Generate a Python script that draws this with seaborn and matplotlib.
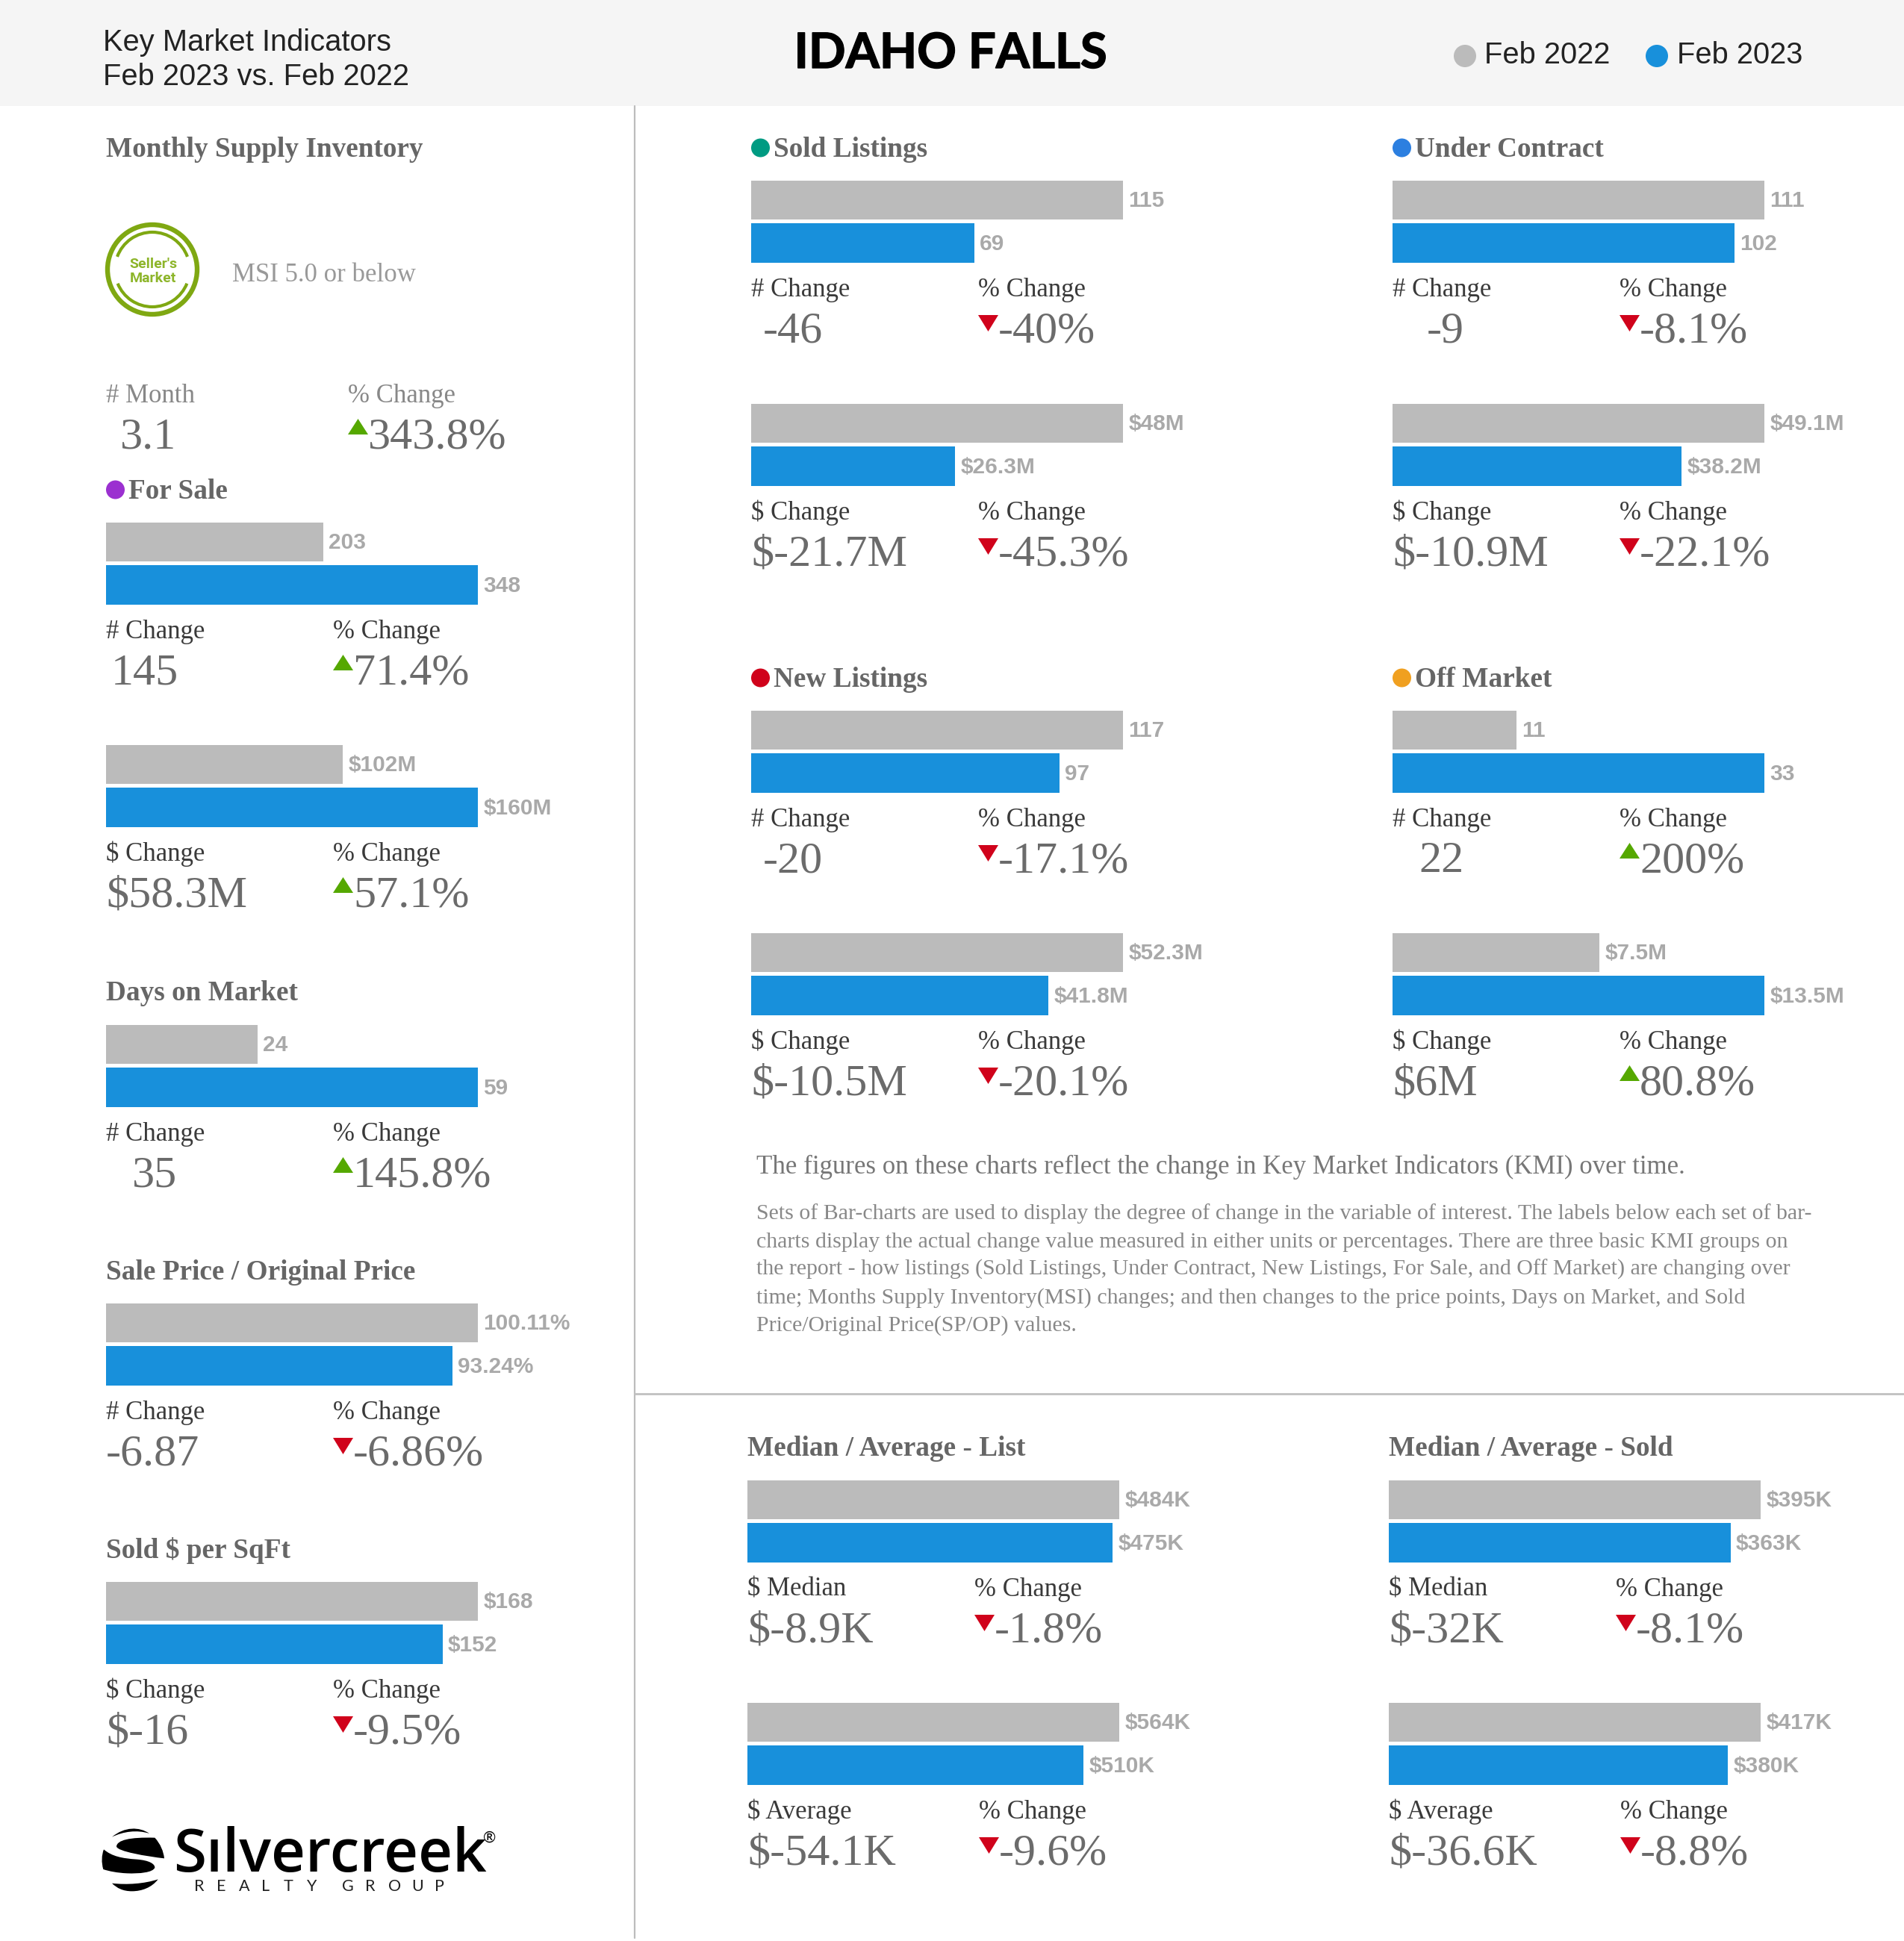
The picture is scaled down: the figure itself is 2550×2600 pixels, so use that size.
import numpy as np
import pandas as pd
import matplotlib
matplotlib.use("Agg")
import matplotlib.pyplot as plt
import matplotlib.patheffects as pe
import seaborn as sns
from matplotlib.patches import Rectangle, Circle, Arc, Polygon, PathPatch
from matplotlib.path import Path

periods = ["Feb 2022", "Feb 2023"]

# values, [Feb 2022, Feb 2023]
for_sale_count = [203, 348]
for_sale_volume = [102, 160]
days_on_market = [24, 59]
sale_vs_original = [100.11, 93.24]
sold_per_sqft = [168, 152]
sold_count = [115, 69]
sold_volume = [48, 26.3]
contract_count = [111, 102]
contract_volume = [49.1, 38.2]
new_count = [117, 97]
new_volume = [52.3, 41.8]
off_count = [11, 33]
off_volume = [7.5, 13.5]
list_median = [484, 475]
list_average = [564, 510]
closed_median = [395, 363]
closed_average = [417, 380]

# change figures under the bars
for_sale_count_change = ["145", "71.4%"]
for_sale_volume_change = ["$58.3M", "57.1%"]
days_change = ["35", "145.8%"]
sale_vs_original_change = ["-6.87", "-6.86%"]
sqft_change = ["$-16", "-9.5%"]
sold_count_change = ["-46", "-40%"]
sold_volume_change = ["$-21.7M", "-45.3%"]
contract_count_change = ["-9", "-8.1%"]
contract_volume_change = ["$-10.9M", "-22.1%"]
new_count_change = ["-20", "-17.1%"]
new_volume_change = ["$-10.5M", "-20.1%"]
off_count_change = ["22", "200%"]
off_volume_change = ["$6M", "80.8%"]
list_median_change = ["$-8.9K", "-1.8%"]
list_average_change = ["$-54.1K", "-9.6%"]
closed_median_change = ["$-32K", "-8.1%"]
closed_average_change = ["$-36.6K", "-8.8%"]
msi_change = ["3.1", "343.8%"]

lead_text = "The figures on these charts reflect the change in Key Market Indicators (KMI) over time."
body_lines = [
    "Sets of Bar-charts are used to display the degree of change in the variable of interest. The labels below each set of bar-",
    "charts display the actual change value measured in either units or percentages. There are three basic KMI groups on",
    "the report - how listings (Sold Listings, Under Contract, New Listings, For Sale, and Off Market) are changing over",
    "time; Months Supply Inventory(MSI) changes; and then changes to the price points, Days on Market, and Sold",
    "Price/Original Price(SP/OP) values.",
]

W, H = 2550, 2600
GRAY = "#BBBBBB"
BLUE = "#1890DB"
SERIF = "Liberation Serif"
SANS = "Liberation Sans"

sns.set_theme(style="white")
fig = plt.figure(figsize=(W / 100, H / 100), dpi=100, facecolor="white")

# page layer in pixel coordinates for text and decorations
page = fig.add_axes([0, 0, 1, 1])
page.set_xlim(0, W)
page.set_ylim(H, 0)
page.axis("off")


def put(x, y, s, size, color, family=SERIF, weight="normal", ha="left"):
    return page.text(x, y, s, fontsize=size, color=color, family=family, weight=weight, ha=ha, va="baseline")


def title(x, y, s, dot=None):
    if dot:
        page.add_patch(Circle((x + 12.5, y - 11), 12.5, color=dot, lw=0))
        x += 30
    put(x, y + 1, s, 26.8, "#666666", weight="bold")


def changes(x, y, col2, label, vals, offset=0, label_color="#3A3A3A"):
    # y is the baseline of the small label
    put(x, y, label, 25, label_color)
    put(x + col2, y, "% Change", 25, label_color)
    vy = y + 61
    put(x + offset, vy + 0.5, vals[0], 43.3, "#6B6B6B")
    px = x + col2
    if vals[1].startswith("-"):
        page.add_patch(Polygon([(px, vy - 36), (px + 27, vy - 36), (px + 13.5, vy - 14)], color="#D0021B", lw=0))
    else:
        page.add_patch(Polygon([(px, vy - 18), (px + 27, vy - 18), (px + 13.5, vy - 39)], color="#55A800", lw=0))
    put(px + 27, vy + 0.5, vals[1], 43.3, "#6B6B6B")


def bars(x, top, values, fmt):
    ax = fig.add_axes([x / W, 1 - (top + 112.25) / H, 498 / W, 115 / H])
    df = pd.DataFrame({"period": periods, "value": values})
    sns.barplot(data=df, x="value", y="period", hue="period", order=periods, hue_order=periods,
                palette=[GRAY, BLUE], width=0.913, saturation=1, dodge=False, legend=False,
                linewidth=0, ax=ax)
    ax.set_xlim(0, max(values))
    for cont, v in zip(ax.containers, values):
        for ann in ax.bar_label(cont, labels=[fmt.format(v)], padding=5.4, fontsize=21.5, color="#A9A9A9",
                                family=SANS, weight="bold"):
            ann.xyann = (ann.xyann[0], ann.xyann[1] - 1)
    ax.axis("off")


def panel(x, top, values, fmt, label, vals, offset=0, col2=304):
    bars(x, top, values, fmt)
    changes(x, top + 155, col2, label, vals, offset)


# header band and rules
page.add_patch(Rectangle((0, 0), W, 142, color="#F5F5F5", lw=0))
page.plot([850, 850], [142, 2596], color="#BDBDBD", lw=1.6)
page.plot([850, W], [1867, 1867], color="#C0C0C0", lw=2)

put(138, 68.5, "Key Market Indicators", 28.7, "#222222", family=SANS)
put(138, 114, "Feb 2023 vs. Feb 2022", 28.7, "#222222", family=SANS)
heading = put(1273, 91, "IDAHO FALLS", 47, "black", family="Lato", weight="bold", ha="center")
heading.set_path_effects([pe.withStroke(linewidth=1, foreground="black")])
page.add_patch(Circle((1962, 75), 15, color=GRAY, lw=0))
put(1987.5, 85, periods[0], 28.7, "#222222", family=SANS)
page.add_patch(Circle((2219, 75), 15, color=BLUE, lw=0))
put(2245.5, 85, periods[1], 28.7, "#222222", family=SANS)

# left column
title(142, 209, "Monthly Supply Inventory")
GREEN = "#7FA812"
page.add_patch(Circle((204, 361), 60, fill=False, ec=GREEN, lw=4.6))
page.add_patch(Arc((204, 361), 100, 100, theta1=200, theta2=340, color=GREEN, lw=3))
page.add_patch(Arc((204, 361), 100, 100, theta1=22, theta2=158, color=GREEN, lw=3))
put(205, 359, "Seller's", 14, "#8DB52A", family="Roboto", weight="bold", ha="center")
put(205, 378, "Market", 14, "#8DB52A", family="Roboto", weight="bold", ha="center")
put(311, 377, "MSI 5.0 or below", 25, "#999999")
changes(142, 539, 324, "# Month", msi_change, offset=19, label_color="#888888")

title(142, 667, "For Sale", dot="#9B30D0")
panel(142, 700, for_sale_count, "{:g}", "# Change", for_sale_count_change, offset=7)
panel(142, 998, for_sale_volume, "${:g}M", "$ Change", for_sale_volume_change)
title(142, 1339, "Days on Market")
panel(142, 1373, days_on_market, "{:g}", "# Change", days_change, offset=35)
title(142, 1713, "Sale Price / Original Price")
panel(142, 1746, sale_vs_original, "{:g}%", "# Change", sale_vs_original_change)
title(142, 2086, "Sold $ per SqFt")
panel(142, 2119, sold_per_sqft, "${:g}", "$ Change", sqft_change)

# listing panels
title(1006, 209, "Sold Listings", dot="#009B82")
panel(1006, 242, sold_count, "{:g}", "# Change", sold_count_change, offset=16)
panel(1006, 541, sold_volume, "${:g}M", "$ Change", sold_volume_change)
title(1865, 209, "Under Contract", dot="#2C7FE0")
panel(1865, 242, contract_count, "{:g}", "# Change", contract_count_change, offset=46)
panel(1865, 541, contract_volume, "${:g}M", "$ Change", contract_volume_change)
title(1006, 919, "New Listings", dot="#D0021B")
panel(1006, 952, new_count, "{:g}", "# Change", new_count_change, offset=16)
panel(1006, 1250, new_volume, "${:g}M", "$ Change", new_volume_change)
title(1865, 919, "Off Market", dot="#F0A020")
panel(1865, 952, off_count, "{:g}", "# Change", off_count_change, offset=35)
panel(1865, 1250, off_volume, "${:g}M", "$ Change", off_volume_change)

# note
put(1013, 1572, lead_text, 25.1, "#777777")
for line, y in zip(body_lines, [1633, 1671, 1708, 1746, 1783]):
    put(1013, y, line, 21.5, "#888888")

# median / average panels
title(1001, 1949, "Median / Average - List")
panel(1001, 1983, list_median, "${:g}K", "$ Median", list_median_change)
panel(1001, 2281, list_average, "${:g}K", "$ Average", list_average_change, col2=310)
title(1860, 1949, "Median / Average - Sold")
panel(1860, 1983, closed_median, "${:g}K", "$ Median", closed_median_change)
panel(1860, 2281, closed_average, "${:g}K", "$ Average", closed_average_change, col2=310)

# logo, emblem outline traced in a 360 box
M, C = Path.MOVETO, Path.CURVE4
emblem = [
    [(90, 92), (140, 50), (200, 50), (240, 78), (190, 62), (135, 70), (90, 92)],
    [(108, 130), (110, 105), (160, 92), (262, 95), (285, 120), (297, 150), (300, 178),
     (230, 170), (110, 150), (108, 130)],
    [(57, 142), (90, 170), (130, 178), (190, 182), (240, 186), (262, 200), (262, 215),
     (255, 235), (200, 240), (150, 238), (110, 236), (80, 230), (55, 222), (47, 195), (48, 165), (57, 142)],
    [(90, 278), (150, 285), (220, 280), (275, 262), (250, 295), (210, 310), (170, 310),
     (135, 310), (110, 298), (90, 278)],
]
for pts in emblem:
    xy = np.array(pts, dtype=float) / 3 + [120, 2430]
    codes = [M] + [C] * (len(xy) - 1)
    page.add_patch(PathPatch(Path(xy, codes), fc="black", ec="none"))
put(232, 2507, "S\u0131lvercreek", 57.5, "black", family="Open Sans", weight="semibold")
put(656, 2468, "\u00ae", 15, "black", family="Lato", ha="center")
for i, ch in enumerate("REALTY"):
    put(260 + 30 * i, 2533, ch, 15.5, "#222222", family="Lato")
for i, ch in enumerate("GROUP"):
    put(458 + 31 * i, 2533, ch, 15.5, "#222222", family="Lato")

fig.savefig("out.png", dpi=100, facecolor="white")
